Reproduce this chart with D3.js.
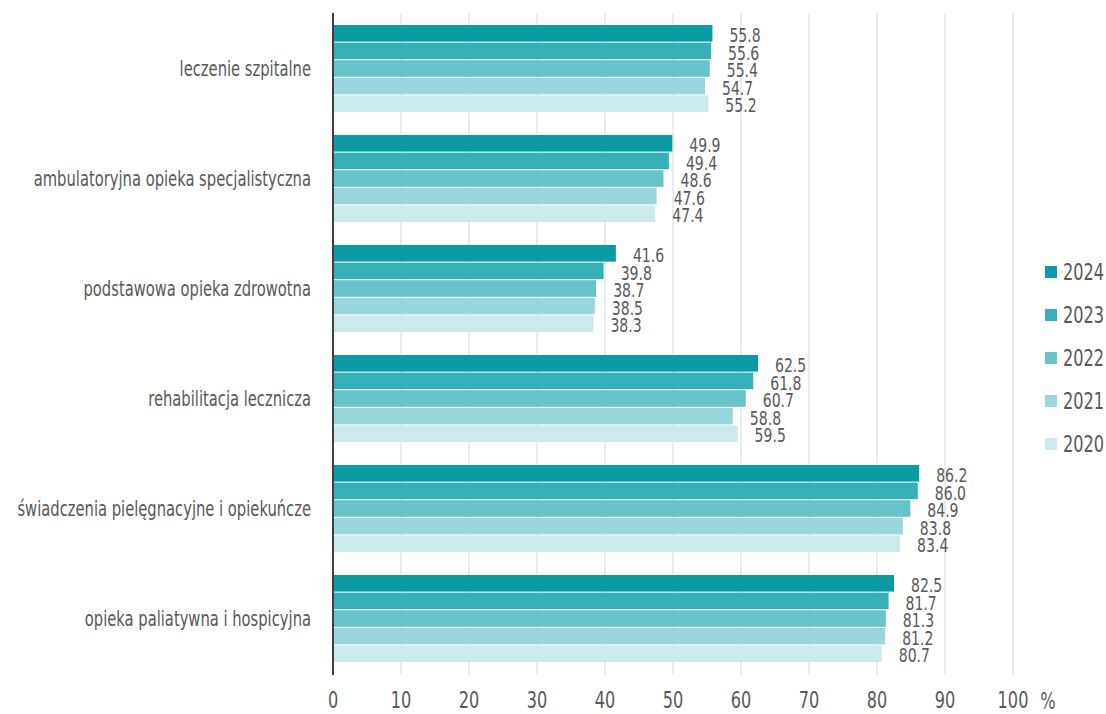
<!DOCTYPE html>
<html>
<head>
<meta charset="utf-8">
<script src="https://cdn.jsdelivr.net/npm/d3@7"></script>
<style>
  html, body { margin: 0; padding: 0; background: #fff; }
  svg text { font-family: "Liberation Sans Narrow", "DejaVu Sans Condensed", sans-serif; fill: #595959; }
</style>
</head>
<body>
<svg id="chart" width="1106" height="714"></svg>
<script>
// categories top to bottom
const categories = [
  'leczenie szpitalne',
  'ambulatoryjna opieka specjalistyczna',
  'podstawowa opieka zdrowotna',
  'rehabilitacja lecznicza',
  'świadczenia pielęgnacyjne i opiekuńcze',
  'opieka paliatywna i hospicyjna'
];
const years = ['2024', '2023', '2022', '2021', '2020'];
const values2024 = [55.8, 49.9, 41.6, 62.5, 86.2, 82.5];
const values2023 = [55.6, 49.4, 39.8, 61.8, 86.0, 81.7];
const values2022 = [55.4, 48.6, 38.7, 60.7, 84.9, 81.3];
const values2021 = [54.7, 47.6, 38.5, 58.8, 83.8, 81.2];
const values2020 = [55.2, 47.4, 38.3, 59.5, 83.4, 80.7];
const xTicks = [0, 10, 20, 30, 40, 50, 60, 70, 80, 90, 100];

const seriesValues = [values2024, values2023, values2022, values2021, values2020];
const colors = ['#0a9ba5', '#37afb6', '#68c3c8', '#9ad6db', '#cce9ec'];

const svg = d3.select('#chart');
const plotLeft = 333, plotRight = 1013, plotTop = 14, plotBottom = 674;

const x = d3.scaleLinear().domain([0, 100]).range([plotLeft, plotRight]);
const y = d3.scaleBand().domain(categories).range([plotTop, plotBottom])
  .paddingInner(0.2).paddingOuter(0.1);
const ySub = d3.scaleBand().domain(years).range([0, y.bandwidth()]);

// gridlines
svg.append('g')
  .selectAll('line')
  .data(xTicks.filter(d => d > 0))
  .join('line')
  .attr('x1', d => x(d)).attr('x2', d => x(d))
  .attr('y1', 13).attr('y2', 675)
  .attr('stroke', '#d9d9d9').attr('stroke-width', 1);

// condensed text helper
const NARROW = 0.78;
function cText(g, tx, ty, anchor) {
  return g.append('text')
    .attr('transform', `translate(${tx},${ty}) scale(${NARROW},1)`)
    .attr('text-anchor', anchor)
    .attr('dominant-baseline', 'central');
}

// bars
const groups = svg.append('g').selectAll('g')
  .data(categories)
  .join('g')
  .attr('transform', d => `translate(0,${y(d)})`);

years.forEach((yr, si) => {
  groups.append('rect')
    .attr('x', x(0))
    .attr('y', ySub(yr))
    .attr('width', (d, i) => x(seriesValues[si][i]) - x(0))
    .attr('height', ySub.bandwidth() - 1)
    .attr('fill', colors[si]);
});

// value labels
categories.forEach((cat, ci) => {
  const g = svg.append('g').attr('transform', `translate(0,${y(cat)})`);
  years.forEach((yr, si) => {
    const v = seriesValues[si][ci];
    cText(g, x(v) + 17, ySub(yr) + ySub.bandwidth() / 2 + 1, 'start')
      .attr('font-size', 20)
      .text(v.toFixed(1));
  });
});

// category labels
categories.forEach(cat => {
  cText(svg, 311, y(cat) + y.bandwidth() / 2, 'end')
    .attr('font-size', 21)
    .text(cat);
});

// y axis line
svg.append('line')
  .attr('x1', plotLeft).attr('x2', plotLeft)
  .attr('y1', 13).attr('y2', 675)
  .attr('stroke', '#404040').attr('stroke-width', 2);

// x tick labels
xTicks.forEach(t => {
  cText(svg, x(t), 700, 'middle')
    .attr('font-size', 23)
    .text(t);
});
cText(svg, 1048, 701, 'middle').attr('font-size', 23).text('%');

// legend
const legend = svg.append('g');
years.forEach((yr, i) => {
  const ly = 272 + i * 43;
  legend.append('rect')
    .attr('x', 1045).attr('y', ly - 6)
    .attr('width', 12).attr('height', 12)
    .attr('fill', colors[i]);
  cText(legend, 1063, ly, 'start')
    .attr('font-size', 23)
    .text(yr);
});
</script>
</body>
</html>
